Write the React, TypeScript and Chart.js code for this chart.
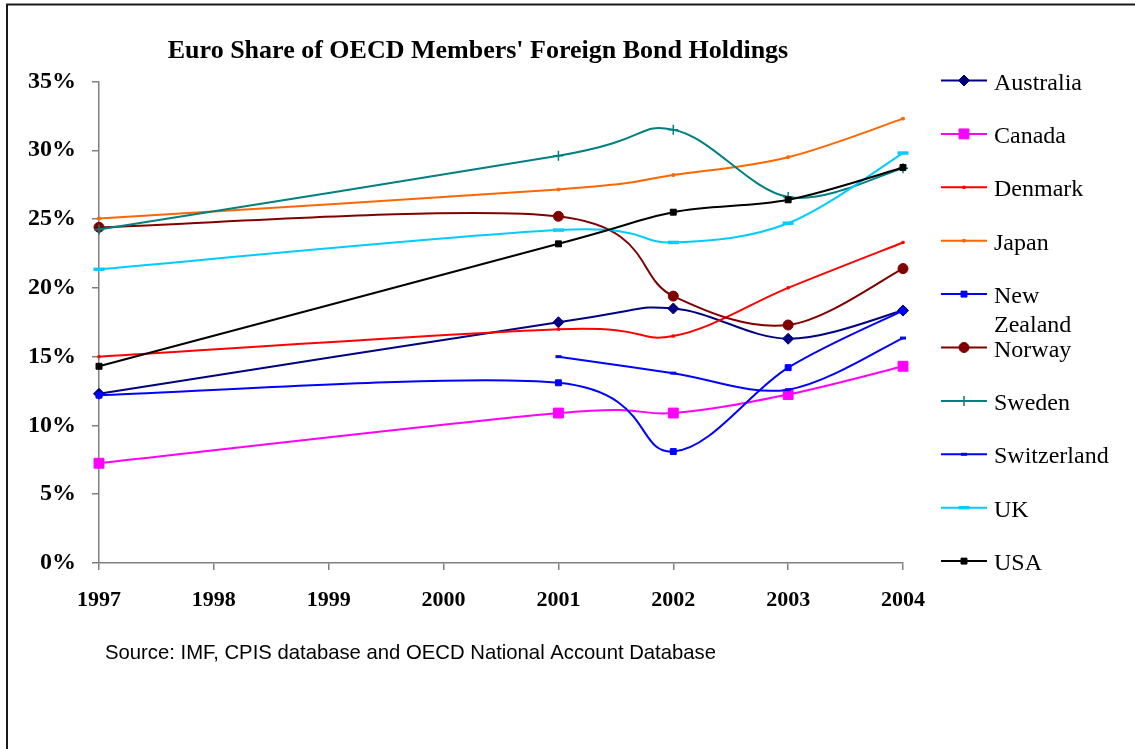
import { useEffect, useRef } from "react";
import { Chart, registerables } from "chart.js";
import { drawPoint } from "chart.js/helpers";

Chart.register(...registerables);

// ---------- data ----------
const YEARS = [1997, 2001, 2002, 2003, 2004];
const SWISS_YEARS = [2001, 2002, 2003, 2004];

const australia = [12.3, 17.5, 18.5, 16.3, 18.35];
const canada = [7.25, 10.9, 10.9, 12.25, 14.3];
const denmark = [15.0, 17.0, 16.5, 20.0, 23.3];
const japan = [25.05, 27.15, 28.2, 29.5, 32.3];
const newZealand = [12.2, 13.1, 8.1, 14.2, 18.35];
const norway = [24.4, 25.2, 19.4, 17.3, 21.4];
const sweden = [24.25, 29.6, 31.5, 26.6, 28.7];
const switzerland = [15.0, 13.8, 12.6, 16.35];
const uk = [21.35, 24.2, 23.3, 24.7, 29.8];
const usa = [14.3, 23.2, 25.5, 26.4, 28.75];

const X_TICKS = [1997, 1998, 1999, 2000, 2001, 2002, 2003, 2004];
const Y_TICKS = [0, 5, 10, 15, 20, 25, 30, 35];

const TITLE = "Euro Share of OECD Members' Foreign Bond Holdings";
const SOURCE = "Source: IMF, CPIS database and OECD National Account Database";

// ---------- styles ----------
type SeriesStyle = {
  label: string[];
  years: number[];
  values: number[];
  color: string;
  pointStyle: string;
  radius: number;
  pbw: number;
};

const SERIES: SeriesStyle[] = [
  { label: ["Australia"], years: YEARS, values: australia, color: "#000080", pointStyle: "rectRot", radius: 5.5, pbw: 1 },
  { label: ["Canada"], years: YEARS, values: canada, color: "#FF00FF", pointStyle: "rect", radius: 7, pbw: 1 },
  { label: ["Denmark"], years: YEARS, values: denmark, color: "#FF0000", pointStyle: "rect", radius: 1.6, pbw: 1 },
  { label: ["Japan"], years: YEARS, values: japan, color: "#FF6600", pointStyle: "rect", radius: 1.8, pbw: 1 },
  { label: ["New", "Zealand"], years: YEARS, values: newZealand, color: "#0000FF", pointStyle: "rect", radius: 4.2, pbw: 1 },
  { label: ["Norway"], years: YEARS, values: norway, color: "#800000", pointStyle: "circle", radius: 5, pbw: 1 },
  { label: ["Sweden"], years: YEARS, values: sweden, color: "#008080", pointStyle: "cross", radius: 5, pbw: 1.5 },
  { label: ["Switzerland"], years: SWISS_YEARS, values: switzerland, color: "#0000FF", pointStyle: "line", radius: 3, pbw: 3 },
  { label: ["UK"], years: YEARS, values: uk, color: "#00CCFF", pointStyle: "line", radius: 5.5, pbw: 3.5 },
  { label: ["USA"], years: YEARS, values: usa, color: "#000000", pointStyle: "rect", radius: 4.2, pbw: 1 },
];

const SERIF = "'Liberation Serif', 'Times New Roman', serif";
const SANS = "'Liberation Sans', Arial, sans-serif";

// Excel-like Catmull-Rom smoothing applied to the library's own point elements
const excelSmooth = {
  id: "excelSmooth",
  beforeDatasetDraw(chart: any, args: any) {
    const meta = args.meta;
    const line = meta.dataset;
    const pts = meta.data;
    if (!line || !pts || pts.length < 2) return;
    line.updateControlPoints(chart.chartArea, meta.iScale ? meta.iScale.axis : "x");
    const n = pts.length;
    for (let i = 0; i < n; i++) {
      const p = pts[i];
      const prev = pts[Math.max(0, i - 1)];
      const next = pts[Math.min(n - 1, i + 1)];
      const dx = (next.x - prev.x) / 6;
      const dy = (next.y - prev.y) / 6;
      p.cp1x = p.x - dx;
      p.cp1y = p.y - dy;
      p.cp2x = p.x + dx;
      p.cp2y = p.y + dy;
    }
    delete line._path;
  },
};

const decorations = {
  id: "decorations",
  beforeDraw(chart: any) {
    const ctx = chart.ctx;
    ctx.save();
    ctx.fillStyle = "#ffffff";
    ctx.fillRect(0, 0, chart.width, chart.height);
    ctx.strokeStyle = "#1a1a1a";
    ctx.lineWidth = 2;
    ctx.beginPath();
    ctx.moveTo(7, chart.height + 5);
    ctx.lineTo(7, 4.5);
    ctx.lineTo(chart.width + 5, 4.5);
    ctx.stroke();
    ctx.restore();
  },
  afterDraw(chart: any) {
    const ctx = chart.ctx;
    ctx.save();
    // title
    ctx.fillStyle = "#000";
    ctx.font = `bold 26px ${SERIF}`;
    ctx.textAlign = "center";
    ctx.textBaseline = "alphabetic";
    ctx.fillText(TITLE, 478, 58);
    // source
    ctx.font = `20.3px ${SANS}`;
    ctx.textAlign = "left";
    ctx.fillText(SOURCE, 105, 659);
    // legend
    const startY = 80.5;
    const step = 53.4;
    SERIES.forEach((s, i) => {
      const y = startY + i * step;
      ctx.strokeStyle = s.color;
      ctx.lineWidth = 2;
      ctx.beginPath();
      ctx.moveTo(941, y);
      ctx.lineTo(987, y);
      ctx.stroke();
      ctx.fillStyle = s.color;
      ctx.strokeStyle = s.color;
      ctx.lineWidth = s.pbw;
      drawPoint(ctx, { pointStyle: s.pointStyle, rotation: 0, radius: s.radius, borderWidth: s.pbw } as any, 964, y);
      ctx.fillStyle = "#000";
      ctx.font = `24px ${SERIF}`;
      ctx.textAlign = "left";
      ctx.textBaseline = "alphabetic";
      s.label.forEach((t, k) => {
        ctx.fillText(t, 994, y + 9 + k * 29);
      });
    });
    ctx.restore();
  },
};

export default function App() {
  const ref = useRef<HTMLCanvasElement | null>(null);

  useEffect(() => {
    const canvas = ref.current;
    if (!canvas) return;
    const datasets = SERIES.map((s, i) => ({
      label: s.label.join(" "),
      data: s.years.map((yr, k) => ({ x: yr, y: s.values[k] })),
      borderColor: s.color,
      backgroundColor: s.color,
      borderWidth: 2,
      pointStyle: s.pointStyle as any,
      pointRadius: s.radius,
      pointBorderWidth: s.pbw,
      pointBackgroundColor: s.color,
      pointBorderColor: s.color,
      pointHoverRadius: s.radius,
      tension: 0.3,
      fill: false,
      clip: false as any,
      order: -i,
    }));

    const chart = new Chart(canvas, {
      type: "line",
      data: { datasets },
      options: {
        responsive: false,
        animation: false,
        devicePixelRatio: 1,
        layout: { padding: { left: 0, top: 81.5, right: 232, bottom: 0 } },
        plugins: {
          legend: { display: false },
          title: { display: false },
          tooltip: { enabled: false },
        },
        events: [],
        scales: {
          x: {
            type: "linear",
            min: X_TICKS[0],
            max: X_TICKS[X_TICKS.length - 1],
            afterBuildTicks: (scale: any) => {
              scale.ticks = X_TICKS.map((v) => ({ value: v }));
            },
            afterFit: (scale: any) => {
              scale.height = 749 - 563;
            },
            ticks: {
              autoSkip: false,
              maxRotation: 0,
              padding: 17,
              color: "#000",
              font: { family: SERIF, size: 22, weight: "bold" },
              callback: (v: any) => String(v),
            },
            grid: { drawOnChartArea: false, drawTicks: true, tickLength: 7, color: "#808080", lineWidth: 1.5 },
            border: { display: true, color: "#808080", width: 1.5 },
          },
          y: {
            type: "linear",
            min: Y_TICKS[0],
            max: Y_TICKS[Y_TICKS.length - 1],
            afterBuildTicks: (scale: any) => {
              scale.ticks = Y_TICKS.map((v) => ({ value: v }));
            },
            afterFit: (scale: any) => {
              scale.width = 99;
            },
            ticks: {
              padding: 16,
              color: "#000",
              font: { family: SERIF, size: 24, weight: "bold" },
              callback: (v: any) => `${v}%`,
            },
            grid: { drawOnChartArea: false, drawTicks: true, tickLength: 7, color: "#808080", lineWidth: 1.5 },
            border: { display: true, color: "#808080", width: 1.5 },
          },
        },
      } as any,
      plugins: [excelSmooth, decorations],
    });
    return () => chart.destroy();
  }, []);

  return (
    <div style={{ position: "fixed", left: 0, top: 0, width: 1135, height: 749, background: "#fff" }}>
      <canvas ref={ref} width={1135} height={749} style={{ display: "block", width: 1135, height: 749 }} />
    </div>
  );
}
